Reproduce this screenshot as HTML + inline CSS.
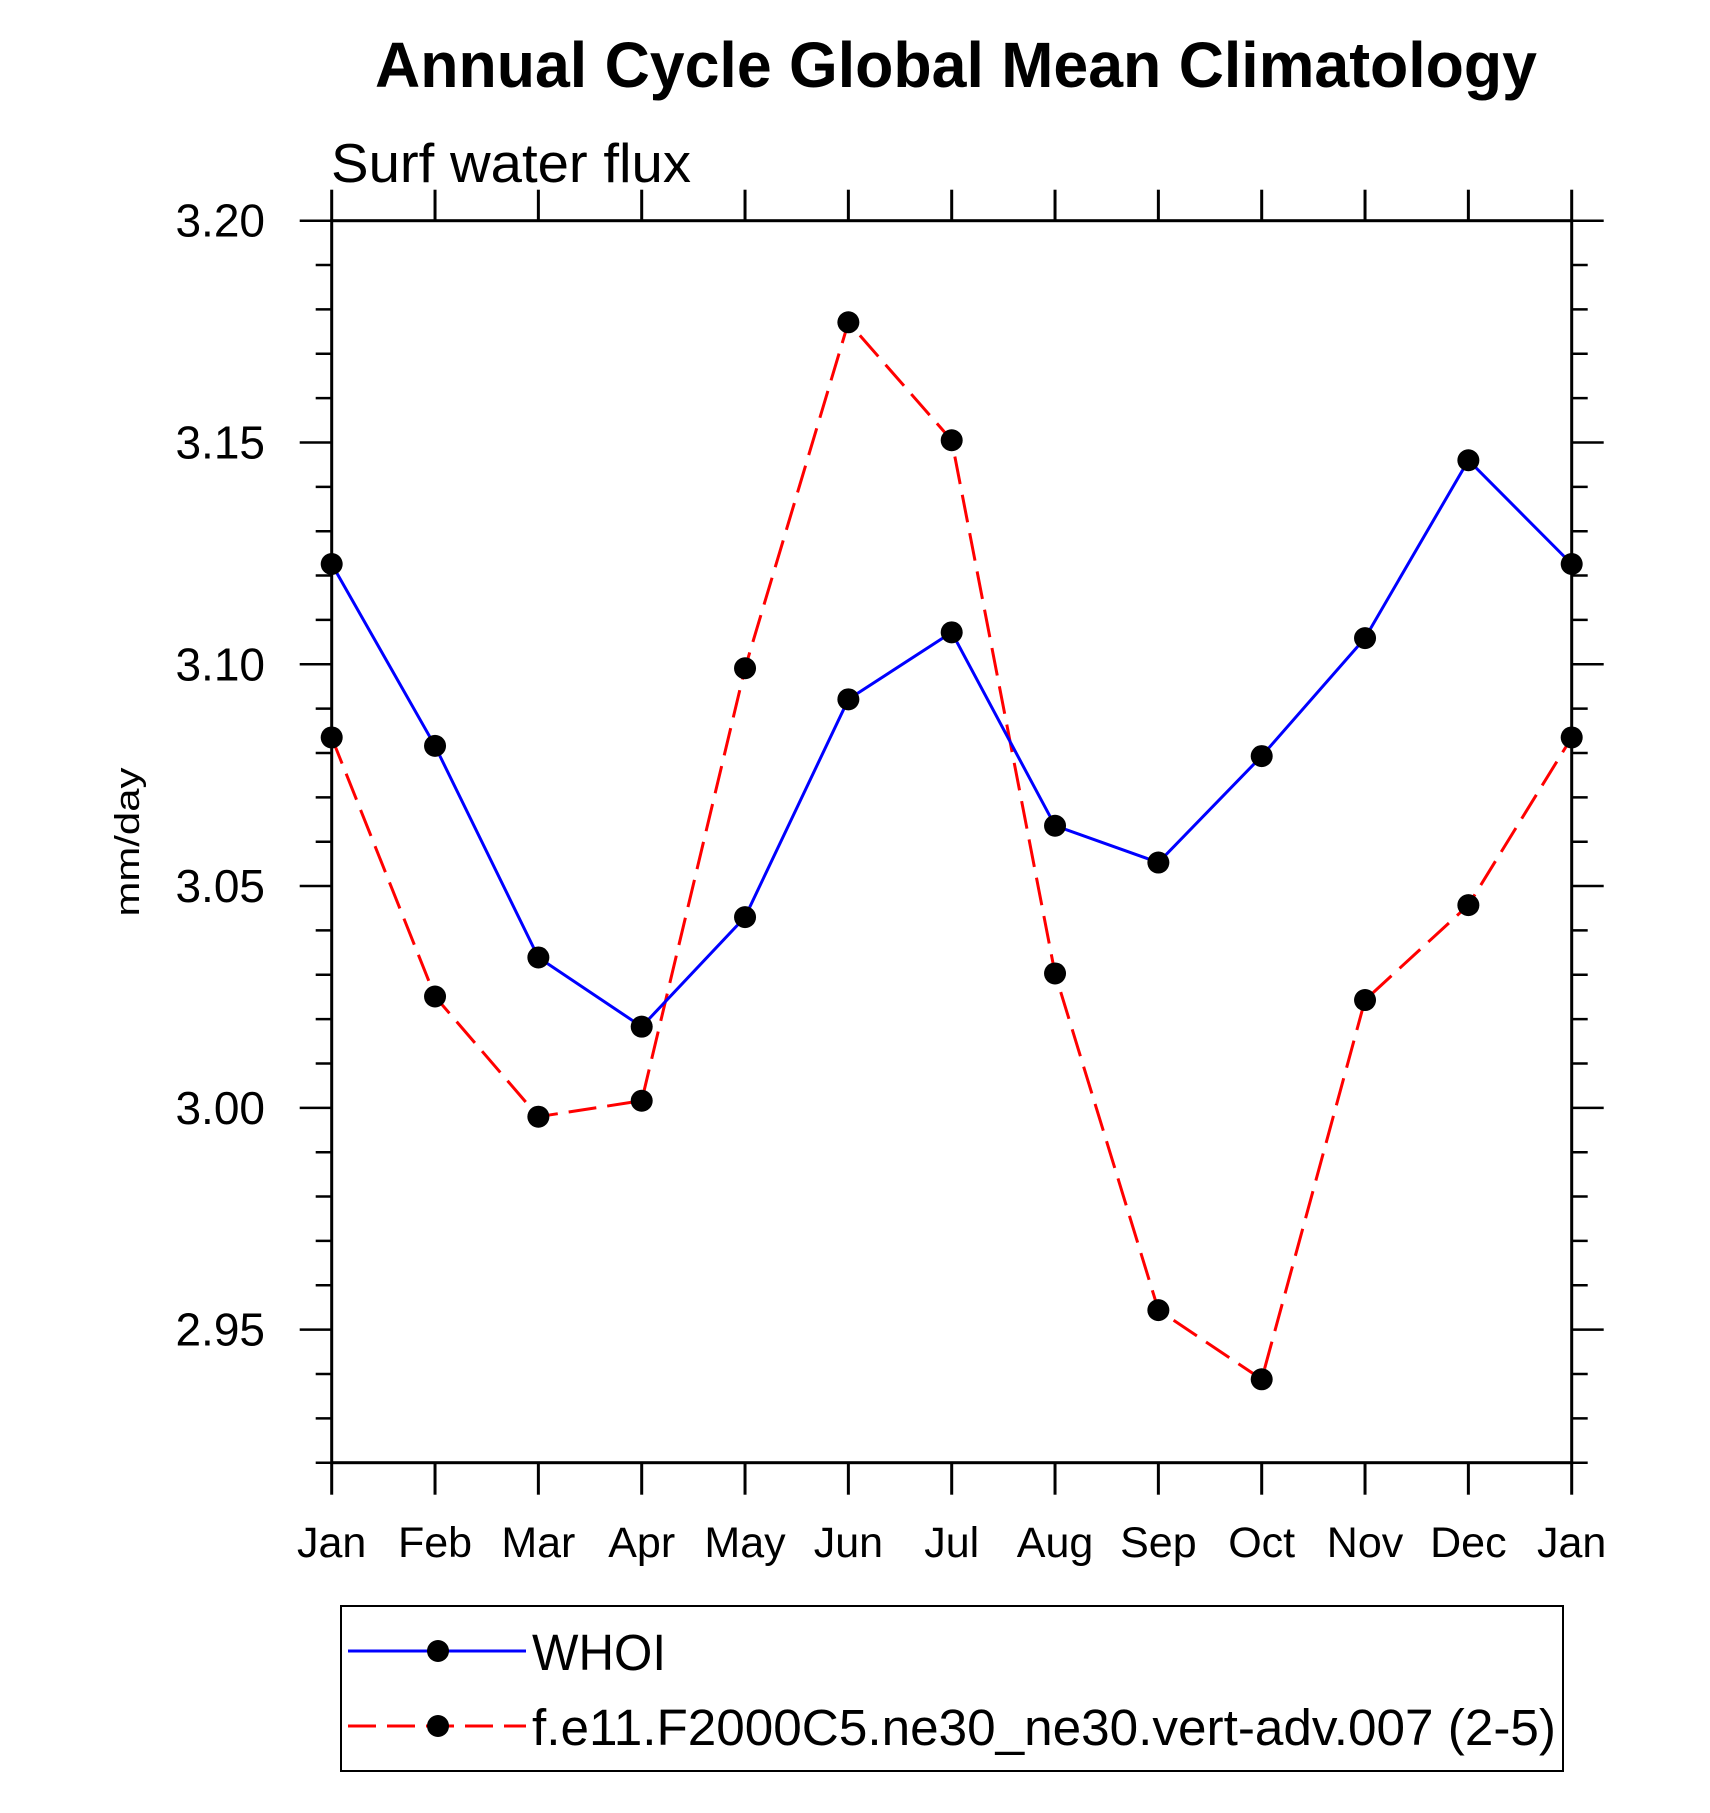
<!DOCTYPE html>
<html><head><meta charset="utf-8"><style>
html,body{margin:0;padding:0;background:#fff;}
svg{display:block;font-family:"Liberation Sans",Arial,sans-serif;}
</style></head><body>
<svg id="chart" width="1710" height="1813" viewBox="0 0 1710 1813" xmlns="http://www.w3.org/2000/svg">
<text x="375" y="87" font-size="64" font-weight="bold" textLength="1162" lengthAdjust="spacingAndGlyphs">Annual Cycle Global Mean Climatology</text>
<text x="331" y="182" font-size="55" textLength="360" lengthAdjust="spacingAndGlyphs">Surf water flux</text>
<text transform="translate(139,842) rotate(-90)" text-anchor="middle" font-size="34" textLength="149" lengthAdjust="spacingAndGlyphs">mm/day</text>
<g id="axes"></g>
<g id="series"></g>
<g id="legend">
<rect x="341" y="1606" width="1222" height="165" fill="none" stroke="#000" stroke-width="2"/>
<g>
<line x1="348" y1="1651" x2="526" y2="1651" stroke="#0000ff" stroke-width="3"/>
<circle cx="438" cy="1651" r="11" fill="#000"/>
<text x="532" y="1670" font-size="51" textLength="134" lengthAdjust="spacingAndGlyphs">WHOI</text>
</g>
<g>
<line x1="348" y1="1726" x2="526" y2="1726" stroke="#ff0000" stroke-width="3" stroke-dasharray="28,11"/>
<circle cx="438" cy="1726" r="11" fill="#000"/>
<text x="532" y="1745" font-size="51" textLength="1024" lengthAdjust="spacingAndGlyphs">f.e11.F2000C5.ne30_ne30.vert-adv.007 (2-5)</text>
</g>
</g>
</svg>
<script>
const months = ["Jan","Feb","Mar","Apr","May","Jun","Jul","Aug","Sep","Oct","Nov","Dec","Jan"];
const whoiValues = [3.1226,3.0816,3.0339,3.0183,3.0430,3.0921,3.1072,3.0636,3.0553,3.0793,3.1059,3.1460,3.1226];
const modelValues = [3.0835,3.0251,2.9980,3.0016,3.0991,3.1771,3.1505,3.0303,2.9544,2.9388,3.0243,3.0457,3.0835];
const yTickLabels = ["3.20","3.15","3.10","3.05","3.00","2.95"];
const yMin = 2.92, yMax = 3.20;

const L = 331.7, R = 1571.7, T = 220.7, B = 1462.7;
const NS = "http://www.w3.org/2000/svg";
function xScale(i){ return L + (R - L) * i / (months.length - 1); }
function yScale(v){ return B - (v - yMin) / (yMax - yMin) * (B - T); }
function mk(tag, attrs, parent){
  const e = document.createElementNS(NS, tag);
  for (const k in attrs) e.setAttribute(k, attrs[k]);
  parent.appendChild(e); return e;
}
const axes = document.getElementById('axes');
const frame = mk('rect', {x:L, y:T, width:R-L, height:B-T, fill:'none', stroke:'#000', 'stroke-width':3}, axes);



// x ticks
months.forEach((m, i) => {
  const x = xScale(i);
  const tb = mk('line', {x1:x, y1:B, x2:x, y2:B+32, stroke:'#000', 'stroke-width':3}, axes);
  
  
  const tt = mk('line', {x1:x, y1:T, x2:x, y2:T-31, stroke:'#000', 'stroke-width':3}, axes);
  
  
  const lab = mk('text', {x:x, y:1557, 'font-size':43, 'text-anchor':'middle'}, axes);
  lab.textContent = m;
  
  
});

// y minor ticks
for (let k = 0; k <= 28; k++) {
  const v = yMin + k * 0.01;
  const y = yScale(v);
  const major = (k - 3) % 5 === 0;
  const len = major ? 32 : 16;
  const a = mk('line', {x1:L-len, y1:y, x2:L, y2:y, stroke:'#000', 'stroke-width':2.5}, axes);
  
  
  const b = mk('line', {x1:R, y1:y, x2:R+len, y2:y, stroke:'#000', 'stroke-width':2.5}, axes);
  
  
}
yTickLabels.forEach(t => {
  const y = yScale(parseFloat(t));
  const lab = mk('text', {x:265, y:y+16, 'font-size':46, 'text-anchor':'end'}, axes);
  lab.textContent = t;
  
  
});

const series = document.getElementById('series');
function drawSeries(vals, color, dash, name){
  const pts = vals.map((v, i) => xScale(i).toFixed(1) + ',' + yScale(v).toFixed(1)).join(' ');
  const attrs = {points:pts, fill:'none', stroke:color, 'stroke-width':3};
  if (dash) attrs['stroke-dasharray'] = dash;
  const pl = mk('polyline', attrs, series);
  
  
  vals.forEach((v, i) => {
    const c = mk('circle', {cx:xScale(i), cy:yScale(v), r:11, fill:'#000'}, series);
    
    
  });
}
drawSeries(modelValues, '#ff0000', '28,11', 'model');
drawSeries(whoiValues, '#0000ff', null, 'whoi');
</script>
</body></html>
